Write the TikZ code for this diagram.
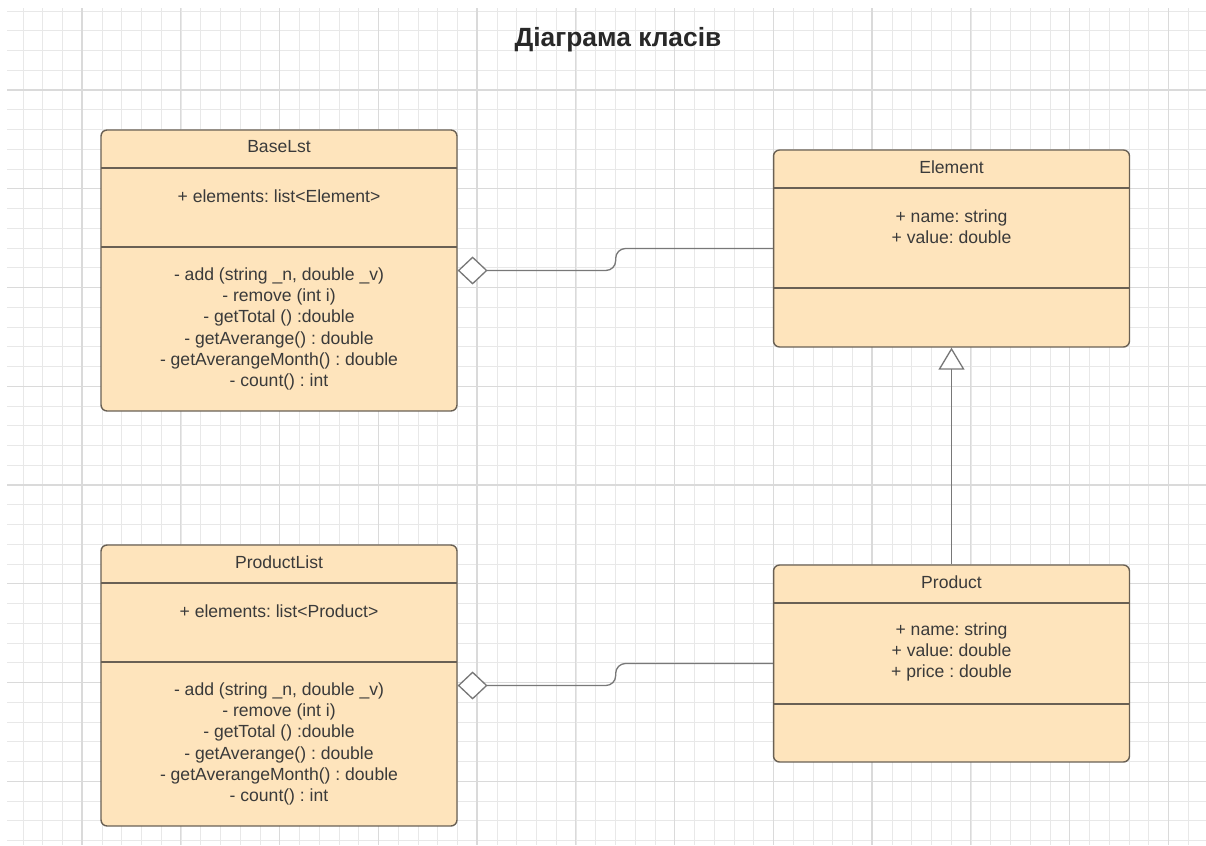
\documentclass[tikz,border=0pt]{standalone}
\usepackage{fontspec}
\setmainfont{Liberation Sans}
\frenchspacing
\usetikzlibrary{arrows.meta}
\definecolor{boxfill}{RGB}{254,228,188}
\definecolor{boxline}{RGB}{105,96,84}
\definecolor{textcol}{RGB}{58,58,58}
\definecolor{titlecol}{RGB}{40,40,40}
\definecolor{linkcol}{RGB}{120,120,120}
\definecolor{gridminor}{RGB}{232,232,232}
\definecolor{gridmajor}{RGB}{218,218,218}
\tikzset{
  minorline/.style={draw=gridminor, line width=0.5pt},
  majorline/.style={draw=gridmajor, line width=0.6pt},
  classbox/.style={draw=boxline, fill=boxfill, line width=0.8pt, rounded corners=3.4pt, inner sep=0pt, minimum width=7.12cm},
  classtext/.style={text=textcol, font=\fontsize{10}{12.1}\selectfont, align=center, inner sep=0pt},
  divider/.style={draw=boxline, line width=0.8pt},
  aggr/.style={draw=linkcol, line width=0.75pt, rounded corners=5.6pt, {Diamond[length=17pt,width=16pt,fill=white]}-},
  inherit/.style={draw=linkcol, line width=0.75pt, -{Triangle[length=12.5pt,width=14.8pt,fill=white]}},
}
\begin{document}
\begin{tikzpicture}[x=0.02cm,y=-0.02cm]
\useasboundingbox (0,0) rectangle (1206,845);
\fill[white] (0,0) rectangle (1206,845);
% grid paper
\foreach \k in {1,...,60}
  \path[minorline] ({3.25+19.75*\k},8) -- ({3.25+19.75*\k},845);
\foreach \k in {0,...,42}
  \path[minorline] (7,{11+19.75*\k}) -- (1206,{11+19.75*\k});
\foreach \k in {0,...,11}
  \path[majorline] ({82+98.75*\k},8) -- ({82+98.75*\k},845);
\foreach \k in {0,...,7}
  \path[majorline] (7,{90+98.75*\k}) -- (1206,{90+98.75*\k});

\node[font=\fontsize{15}{18}\selectfont\bfseries, text=titlecol] (title) at (618,40) {Діаграма класів};

% classes
\node[classbox, minimum height=5.62cm] (baselst) at (279,270.5) {};
\node[classbox, minimum height=5.62cm] (productlist) at (279,685.5) {};
\node[classbox, minimum height=3.94cm] (element) at (951.5,248.5) {};
\node[classbox, minimum height=3.94cm] (product) at (951.5,663.5) {};

\path[divider] (101,168) -- (457,168);
\path[divider] (101,247) -- (457,247);
\path[divider] (101,583) -- (457,583);
\path[divider] (101,662) -- (457,662);
\path[divider] (773,188) -- (1130,188);
\path[divider] (773,288) -- (1130,288);
\path[divider] (773,603) -- (1130,603);
\path[divider] (773,704) -- (1130,704);

\node[classtext] (baselst-name) at (279,147) {BaseLst};
\node[classtext] (baselst-attr) at (279,196) {+ elements: list<Element>};
\node[classtext] (baselst-ops) at (279,329) {- add (string \_n, double \_v)\\- remove (int i)\\- getTotal () :double\\- getAverange() : double\\- getAverangeMonth() : double\\- count() : int};

\node[classtext] (productlist-name) at (279,562) {ProductList};
\node[classtext] (productlist-attr) at (279,611) {+ elements: list<Product>};
\node[classtext] (productlist-ops) at (279,744) {- add (string \_n, double \_v)\\- remove (int i)\\- getTotal () :double\\- getAverange() : double\\- getAverangeMonth() : double\\- count() : int};

\node[classtext] (element-name) at (951.5,167) {Element};
\node[classtext] (element-attr) at (951.5,226.5) {+ name: string\\+ value: double};

\node[classtext] (product-name) at (951.5,582) {Product};
\node[classtext] (product-attr) at (951.5,652) {+ name: string\\+ value: double\\+ price : double};

% relations
\path[aggr] (baselst.east) -- ++(158,0) |- (element.west);
\path[aggr] (productlist.east) -- ++(158,0) |- (product.west);
\path[inherit] (product.north) -- (element.south);
\end{tikzpicture}
\end{document}
